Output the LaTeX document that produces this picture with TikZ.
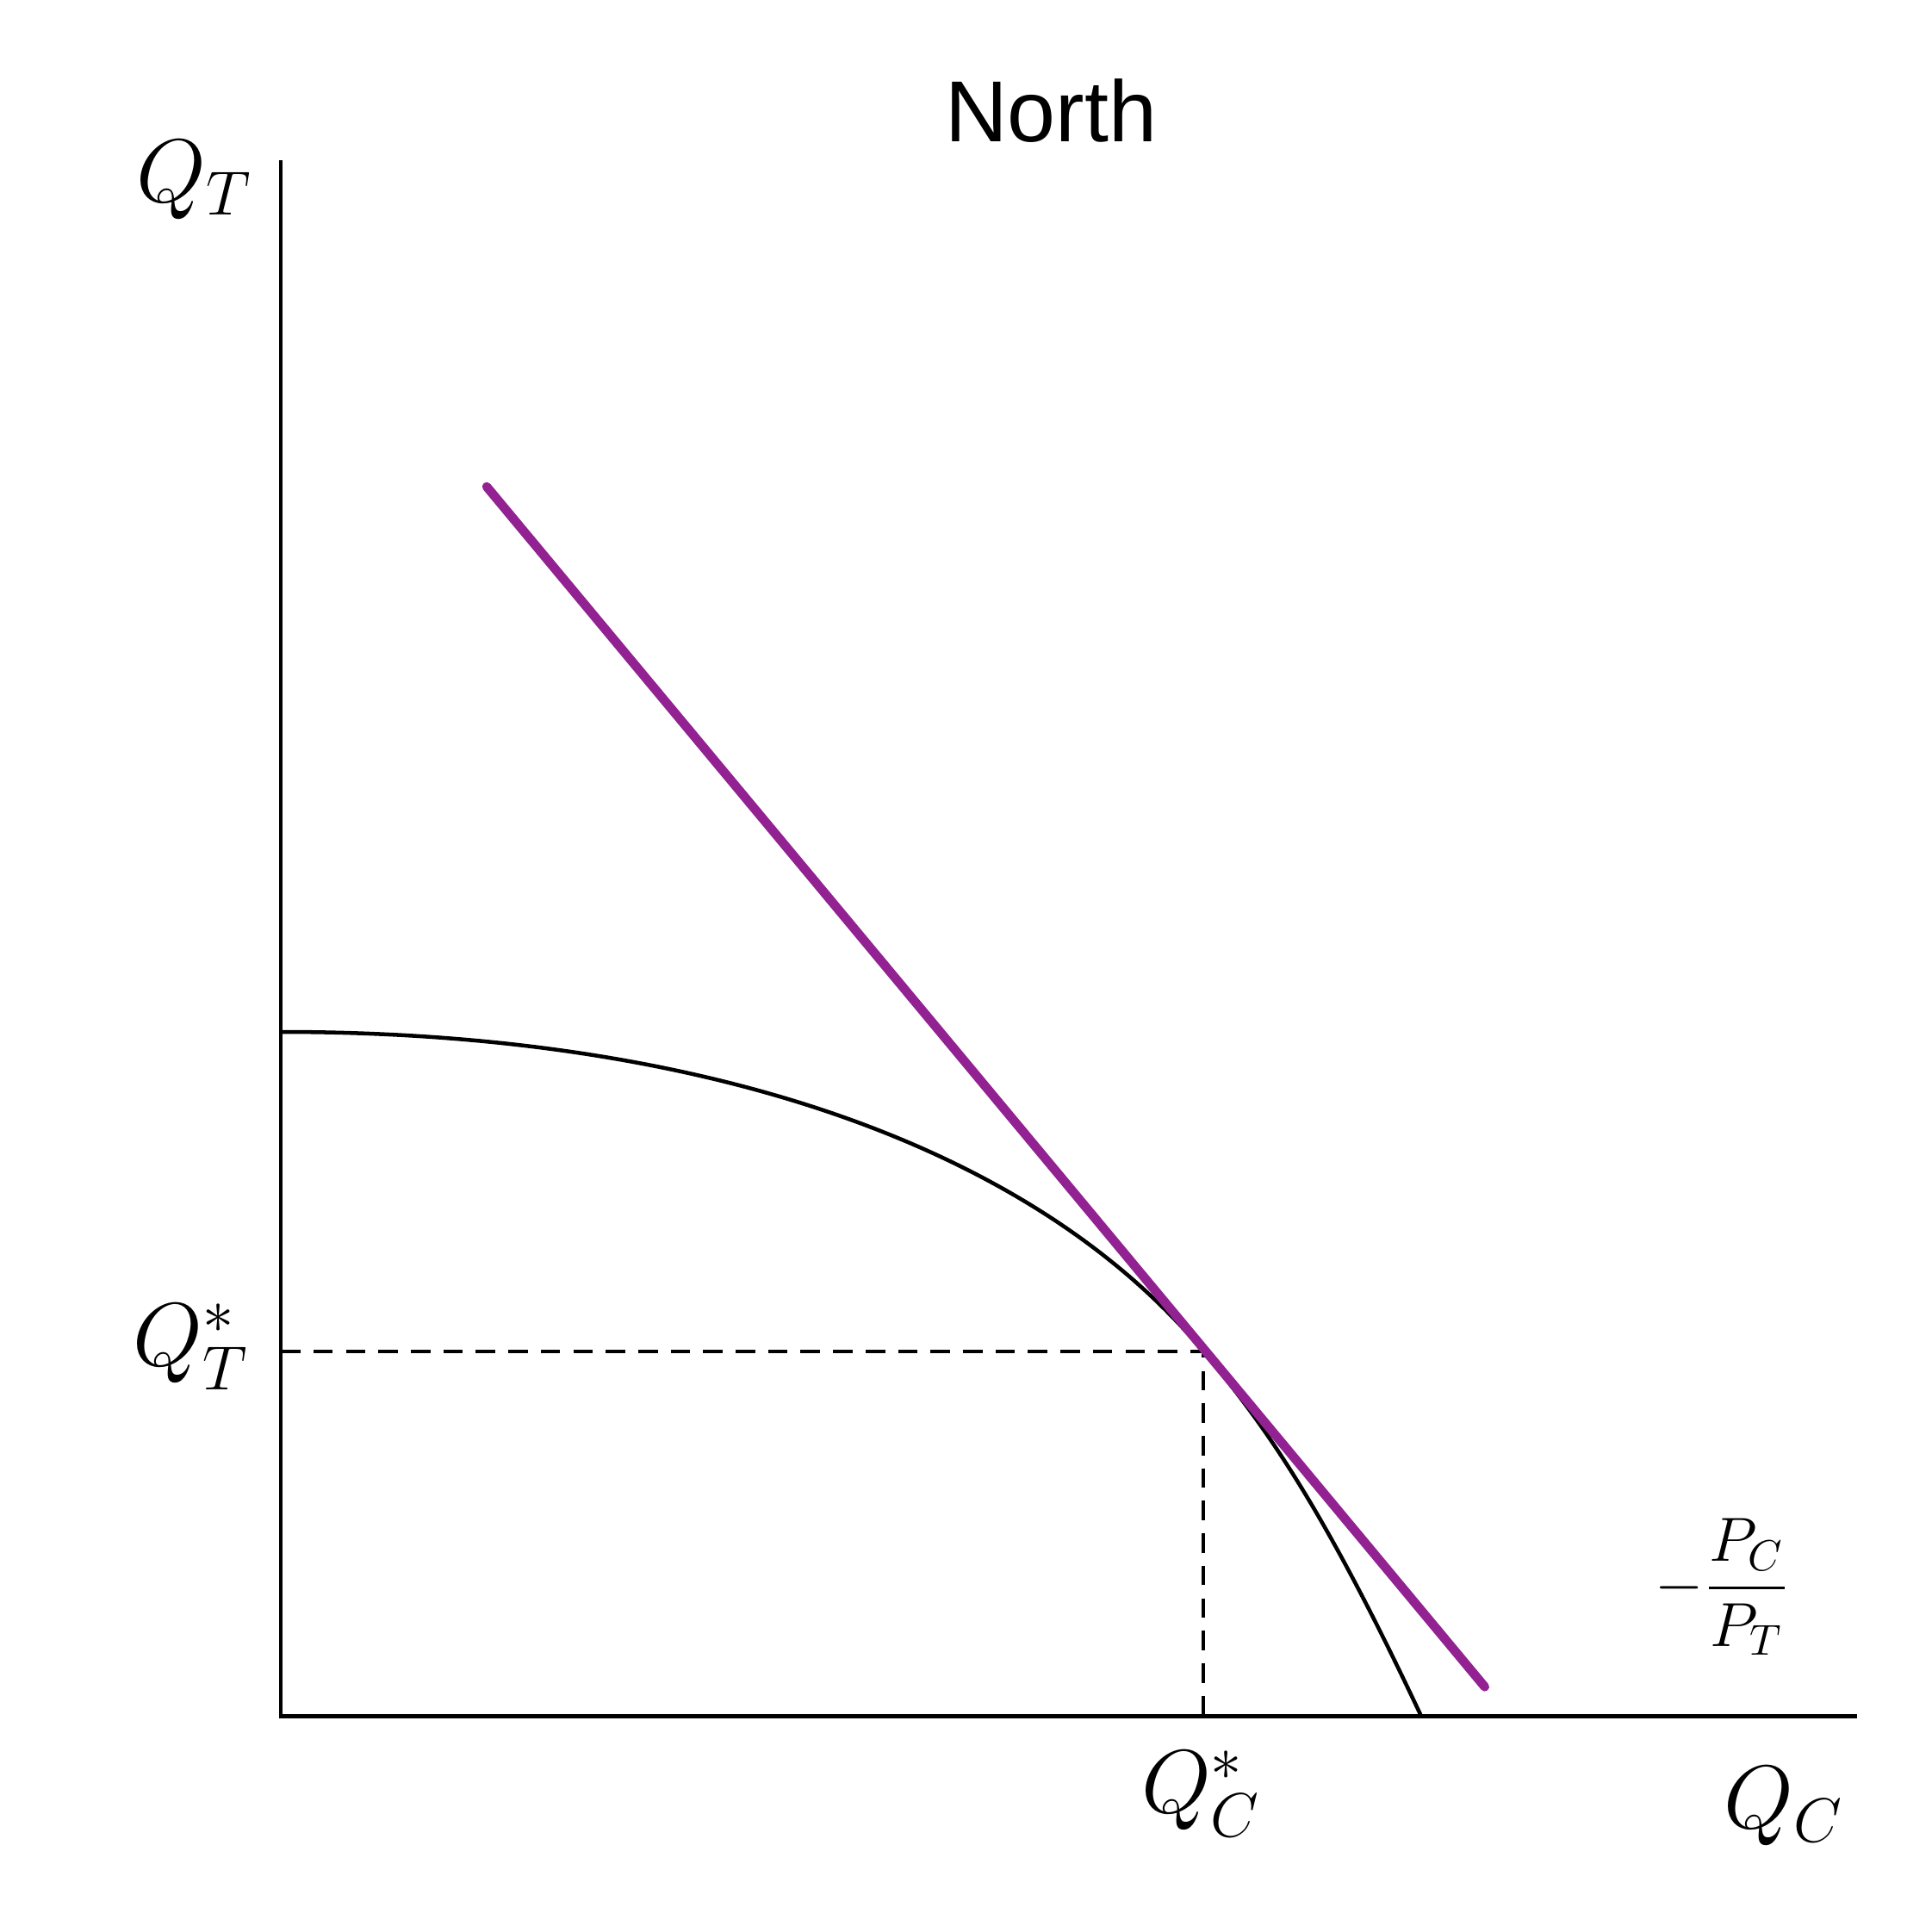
\documentclass[tikz,border=0pt]{standalone}
\usepackage{amsmath}
\usepackage{fontspec}
\setsansfont{Liberation Sans}
\usepackage{tikz}
\usetikzlibrary{arrows.meta, positioning, calc}

\tikzset{
    axis/.style={line width=0.9pt},
    ppf/.style={line width=0.9pt},
    budget/.style={line width=2.1pt, color={rgb,255:red,146;green,34;blue,146}, line cap=round},
    guide/.style={line width=0.9pt, dash pattern=on 4.5pt off 3pt},
    lbl/.style={font=\fontsize{20}{24}\selectfont}
}

\begin{document}
\begin{tikzpicture}[>=Stealth]
            \useasboundingbox (0,0) rectangle (15.68,15.68);

            \coordinate (O) at (2.28,1.75);
            \coordinate (ytop) at (2.28,14.38);
            \coordinate (xend) at (15.07,1.75);
            \coordinate (E) at (9.766,4.712);
            \coordinate (Ey) at (2.28,4.712);
            \coordinate (Ex) at (9.766,1.75);
            \coordinate (ppfT) at (2.28,7.305);
            \coordinate (ppfC) at (11.535,1.75);
            \coordinate (b1) at (3.95,11.73);
            \coordinate (b2) at (12.05,1.99);

            \node[font=\sffamily\fontsize{20}{24}\selectfont] (title) at (8.53,14.78) {North};
            \node[lbl] (qt) at (1.58,14.22) {$Q_T$};
            \node[lbl] (qtstar) at (1.55,4.75) {$Q_T^*$};
            \node[lbl] (qcstar) at (9.75,1.12) {$Q_C^*$};
            \node[lbl] (qc) at (14.48,1.02) {$Q_C$};
            \node[font=\fontsize{14}{16}\selectfont] (slope) at (13.98,2.80) {$-\dfrac{P_C}{P_T}$};

            \draw[axis] (ytop) -- (O) -- (xend);
            \draw[guide] (Ey) -- (E) -- (Ex);
            \draw[ppf] (ppfT) .. controls (5.68,7.305) and (8.366,6.392) .. (E)
                .. controls (10.266,4.112) and (10.735,3.454) .. (ppfC);
            \draw[budget] (b1) -- (b2);
        \end{tikzpicture}
\end{document}
